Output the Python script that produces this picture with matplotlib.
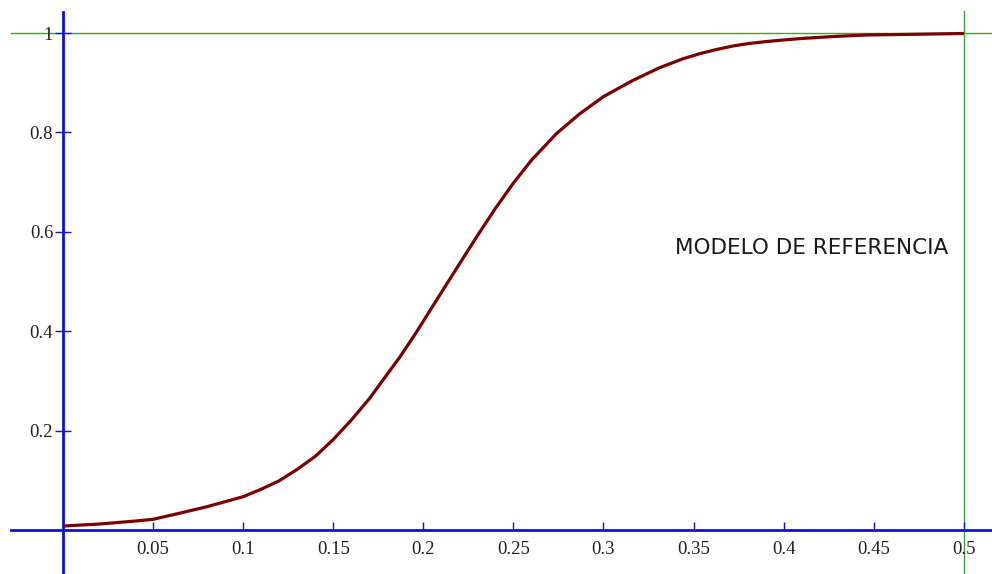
import matplotlib
matplotlib.use('Agg')
import matplotlib.pyplot as plt

# curve samples (t, F(t))
t_vals = [0, 0.02, 0.04, 0.05, 0.065, 0.08, 0.1, 0.11, 0.12, 0.13, 0.14, 0.15,
          0.16, 0.17, 0.187, 0.196, 0.205, 0.213, 0.22, 0.23, 0.24, 0.25, 0.26,
          0.274, 0.287, 0.3, 0.316, 0.331, 0.344, 0.354, 0.363, 0.372, 0.381,
          0.391, 0.4, 0.41, 0.428, 0.446, 0.465, 0.5]
f_vals = [0.008, 0.012, 0.018, 0.0215, 0.034, 0.047, 0.067, 0.082, 0.099, 0.122,
          0.148, 0.182, 0.221, 0.264, 0.348, 0.397, 0.449, 0.495, 0.535, 0.592,
          0.647, 0.698, 0.744, 0.798, 0.838, 0.872, 0.904, 0.93, 0.948, 0.959,
          0.967, 0.974, 0.979, 0.983, 0.986, 0.989, 0.993, 0.996, 0.997, 0.999]

x_ticks = [0.05, 0.1, 0.15, 0.2, 0.25, 0.3, 0.35, 0.4, 0.45, 0.5]
x_labels = ['0.05', '0.1', '0.15', '0.2', '0.25', '0.3', '0.35', '0.4', '0.45', '0.5']
y_ticks = [0.2, 0.4, 0.6, 0.8, 1]
y_labels = ['0.2', '0.4', '0.6', '0.8', '1']

label_text = 'MODELO DE REFERENCIA'

BLUE = '#1212d2'
GREEN = '#40a040'
CURVE = '#7a0000'


def main():
    fig = plt.figure(figsize=(9.92, 5.74), dpi=100)
    ax = fig.add_axes([0, 0, 1, 1])
    ax.set_xlim(-0.0349, 0.5156)
    ax.set_ylim(-0.0885, 1.0664)

    # axes through the origin
    for side in ['top', 'right']:
        ax.spines[side].set_visible(False)
    ax.spines['left'].set_position(('data', 0))
    ax.spines['bottom'].set_position(('data', 0))
    ax.spines['left'].set_bounds(-0.0885, 1.042)
    ax.spines['bottom'].set_bounds(-0.0288, 0.5156)
    for side in ['left', 'bottom']:
        ax.spines[side].set_color(BLUE)
        ax.spines[side].set_linewidth(2.0)

    # reference lines at F=1 and t=0.5
    ax.axhline(1, xmin=0.011, xmax=1, color=GREEN, lw=1.0, zorder=1)
    ax.axvline(0.5, ymin=0, ymax=0.981, color=GREEN, lw=1.0, zorder=1)

    ax.plot(t_vals, f_vals, color=CURVE, lw=2.3, zorder=3,
            solid_capstyle='butt', solid_joinstyle='round')

    ax.set_xticks(x_ticks)
    ax.set_xticklabels(x_labels)
    ax.set_yticks(y_ticks)
    ax.set_yticklabels(y_labels)
    ax.tick_params(axis='x', direction='in', length=5.8, width=1, color=BLUE,
                   pad=8, labelsize=13.5, labelcolor='#222222')
    ax.tick_params(axis='y', direction='inout', length=11, width=1, color=BLUE,
                   pad=1.5, labelsize=13.5, labelcolor='#222222')
    for lab in ax.get_xticklabels() + ax.get_yticklabels():
        lab.set_fontfamily('Liberation Serif')

    ax.text(0.3397, 0.567, label_text, ha='left', va='center', fontsize=15.5,
            family='DejaVu Sans', color='#1a1a1a')

    fig.savefig('out.png', dpi=100)


if __name__ == '__main__':
    main()
